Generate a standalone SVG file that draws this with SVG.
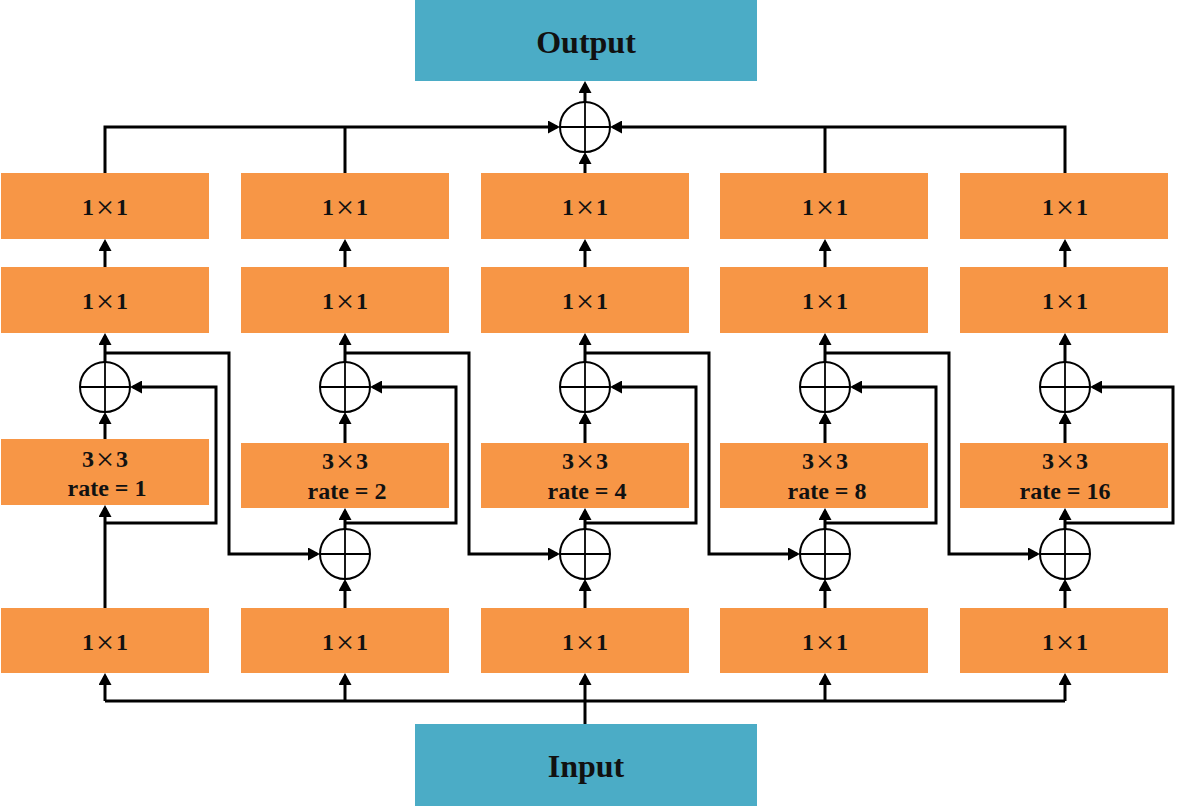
<svg xmlns="http://www.w3.org/2000/svg" width="1177" height="806" viewBox="0 0 1177 806">
<style>
.box{fill:#F79646}
.io{fill:#4BACC6}
.t{font-family:"Liberation Serif","Times New Roman",serif;font-weight:bold;font-size:24px;fill:#111;text-anchor:middle}
.big{font-size:32px}
.x{font-weight:normal;font-size:32px}
.c{fill:none;stroke:#000;stroke-width:3;stroke-linejoin:miter}
.a{marker-end:url(#ah)}
.sum{fill:#fff;stroke:#000;stroke-width:2}
.cross{stroke:#000;stroke-width:1.8}
</style>
<defs>
<marker id="ah" markerUnits="userSpaceOnUse" markerWidth="12" markerHeight="13" refX="9" refY="6.5" orient="auto">
<path d="M0,0 L12,6.5 L0,13 Z" fill="#000"/>
</marker>
<g id="plus"><circle r="25" class="sum"/><line x1="-25" y1="0" x2="25" y2="0" class="cross"/><line x1="0" y1="-25" x2="0" y2="25" class="cross"/></g>
</defs>

<g id="connectors">
<path class="c" d="M105,701 H1065"/>
<path class="c a" d="M585,724 V676"/>
<path class="c a" d="M105,701 V676"/>
<path class="c a" d="M345,701 V676"/>
<path class="c a" d="M825,701 V676"/>
<path class="c a" d="M1065,701 V676"/>
<path class="c a" d="M105,608 V508"/>
<path class="c a" d="M105,523 H216 V387 H133"/>
<path class="c a" d="M105,439 V415"/>
<path class="c a" d="M105,362 V336"/>
<path class="c a" d="M105,353 H229 V554 H317"/>
<path class="c a" d="M105,267 V242"/>
<path class="c a" d="M345,608 V582"/>
<path class="c a" d="M345,529 V511"/>
<path class="c a" d="M345,523 H456 V387 H373"/>
<path class="c a" d="M345,443 V415"/>
<path class="c a" d="M345,362 V336"/>
<path class="c a" d="M345,353 H469 V554 H557"/>
<path class="c a" d="M345,267 V242"/>
<path class="c a" d="M585,608 V582"/>
<path class="c a" d="M585,529 V511"/>
<path class="c a" d="M585,523 H696 V387 H613"/>
<path class="c a" d="M585,443 V415"/>
<path class="c a" d="M585,362 V336"/>
<path class="c a" d="M585,353 H709 V554 H797"/>
<path class="c a" d="M585,267 V242"/>
<path class="c a" d="M825,608 V582"/>
<path class="c a" d="M825,529 V511"/>
<path class="c a" d="M825,523 H936 V387 H853"/>
<path class="c a" d="M825,443 V415"/>
<path class="c a" d="M825,362 V336"/>
<path class="c a" d="M825,353 H949 V554 H1037"/>
<path class="c a" d="M825,267 V242"/>
<path class="c a" d="M1065,608 V582"/>
<path class="c a" d="M1065,529 V511"/>
<path class="c a" d="M1065,523 H1173 V387 H1093"/>
<path class="c a" d="M1065,443 V415"/>
<path class="c a" d="M1065,362 V336"/>
<path class="c a" d="M1065,267 V242"/>
<path class="c a" d="M105,173 V127 H557"/>
<path class="c" d="M345,173 V127"/>
<path class="c" d="M825,173 V127"/>
<path class="c a" d="M1065,173 V127 H613"/>
<path class="c a" d="M585,173 V155"/>
<path class="c a" d="M585,102 V84"/>
</g>

<g id="output"><rect class="io" x="415" y="0" width="342" height="81"/><text class="t big" x="586" y="53">Output</text></g>
<g id="input"><rect class="io" x="415" y="724" width="342" height="82"/><text class="t big" x="586" y="777">Input</text></g>

<g id="sum-top"><use href="#plus" x="585" y="127"/></g>

<g id="col1">
<g id="c1-top"><rect class="box" x="1" y="173" width="208" height="66"/><text class="t" x="105" y="215">1<tspan class="x" dx="2" dy="3">×</tspan><tspan dx="2" dy="-3">1</tspan></text></g>
<g id="c1-r2"><rect class="box" x="1" y="267" width="208" height="66"/><text class="t" x="105" y="309">1<tspan class="x" dx="2" dy="3">×</tspan><tspan dx="2" dy="-3">1</tspan></text></g>
<g id="c1-sum"><use href="#plus" x="105" y="387"/></g>
<g id="c1-conv"><rect class="box" x="1" y="439" width="208" height="66"/><text class="t" x="105" y="467">3<tspan class="x" dx="2" dy="3">×</tspan><tspan dx="2" dy="-3">3</tspan></text><text class="t" x="107" y="496">rate = 1</text></g>
<g id="c1-bot"><rect class="box" x="1" y="608" width="208" height="65"/><text class="t" x="105" y="650">1<tspan class="x" dx="2" dy="3">×</tspan><tspan dx="2" dy="-3">1</tspan></text></g>
</g>

<g id="col2">
<g id="c2-top"><rect class="box" x="241" y="173" width="208" height="66"/><text class="t" x="345" y="215">1<tspan class="x" dx="2" dy="3">×</tspan><tspan dx="2" dy="-3">1</tspan></text></g>
<g id="c2-r2"><rect class="box" x="241" y="267" width="208" height="66"/><text class="t" x="345" y="309">1<tspan class="x" dx="2" dy="3">×</tspan><tspan dx="2" dy="-3">1</tspan></text></g>
<g id="c2-sum"><use href="#plus" x="345" y="387"/></g>
<g id="c2-conv"><rect class="box" x="241" y="443" width="208" height="65"/><text class="t" x="345" y="469">3<tspan class="x" dx="2" dy="3">×</tspan><tspan dx="2" dy="-3">3</tspan></text><text class="t" x="347" y="499">rate = 2</text></g>
<g id="c2-sum2"><use href="#plus" x="345" y="554"/></g>
<g id="c2-bot"><rect class="box" x="241" y="608" width="208" height="65"/><text class="t" x="345" y="650">1<tspan class="x" dx="2" dy="3">×</tspan><tspan dx="2" dy="-3">1</tspan></text></g>
</g>

<g id="col3">
<g id="c3-top"><rect class="box" x="481" y="173" width="208" height="66"/><text class="t" x="585" y="215">1<tspan class="x" dx="2" dy="3">×</tspan><tspan dx="2" dy="-3">1</tspan></text></g>
<g id="c3-r2"><rect class="box" x="481" y="267" width="208" height="66"/><text class="t" x="585" y="309">1<tspan class="x" dx="2" dy="3">×</tspan><tspan dx="2" dy="-3">1</tspan></text></g>
<g id="c3-sum"><use href="#plus" x="585" y="387"/></g>
<g id="c3-conv"><rect class="box" x="481" y="443" width="208" height="65"/><text class="t" x="585" y="469">3<tspan class="x" dx="2" dy="3">×</tspan><tspan dx="2" dy="-3">3</tspan></text><text class="t" x="587" y="499">rate = 4</text></g>
<g id="c3-sum2"><use href="#plus" x="585" y="554"/></g>
<g id="c3-bot"><rect class="box" x="481" y="608" width="208" height="65"/><text class="t" x="585" y="650">1<tspan class="x" dx="2" dy="3">×</tspan><tspan dx="2" dy="-3">1</tspan></text></g>
</g>

<g id="col4">
<g id="c4-top"><rect class="box" x="720" y="173" width="208" height="66"/><text class="t" x="825" y="215">1<tspan class="x" dx="2" dy="3">×</tspan><tspan dx="2" dy="-3">1</tspan></text></g>
<g id="c4-r2"><rect class="box" x="720" y="267" width="208" height="66"/><text class="t" x="825" y="309">1<tspan class="x" dx="2" dy="3">×</tspan><tspan dx="2" dy="-3">1</tspan></text></g>
<g id="c4-sum"><use href="#plus" x="825" y="387"/></g>
<g id="c4-conv"><rect class="box" x="720" y="443" width="208" height="65"/><text class="t" x="825" y="469">3<tspan class="x" dx="2" dy="3">×</tspan><tspan dx="2" dy="-3">3</tspan></text><text class="t" x="827" y="499">rate = 8</text></g>
<g id="c4-sum2"><use href="#plus" x="825" y="554"/></g>
<g id="c4-bot"><rect class="box" x="720" y="608" width="208" height="65"/><text class="t" x="825" y="650">1<tspan class="x" dx="2" dy="3">×</tspan><tspan dx="2" dy="-3">1</tspan></text></g>
</g>

<g id="col5">
<g id="c5-top"><rect class="box" x="960" y="173" width="208" height="66"/><text class="t" x="1065" y="215">1<tspan class="x" dx="2" dy="3">×</tspan><tspan dx="2" dy="-3">1</tspan></text></g>
<g id="c5-r2"><rect class="box" x="960" y="267" width="208" height="66"/><text class="t" x="1065" y="309">1<tspan class="x" dx="2" dy="3">×</tspan><tspan dx="2" dy="-3">1</tspan></text></g>
<g id="c5-sum"><use href="#plus" x="1065" y="387"/></g>
<g id="c5-conv"><rect class="box" x="960" y="443" width="208" height="65"/><text class="t" x="1065" y="469">3<tspan class="x" dx="2" dy="3">×</tspan><tspan dx="2" dy="-3">3</tspan></text><text class="t" x="1065" y="499">rate = 16</text></g>
<g id="c5-sum2"><use href="#plus" x="1065" y="554"/></g>
<g id="c5-bot"><rect class="box" x="960" y="608" width="208" height="65"/><text class="t" x="1065" y="650">1<tspan class="x" dx="2" dy="3">×</tspan><tspan dx="2" dy="-3">1</tspan></text></g>
</g>
</svg>
